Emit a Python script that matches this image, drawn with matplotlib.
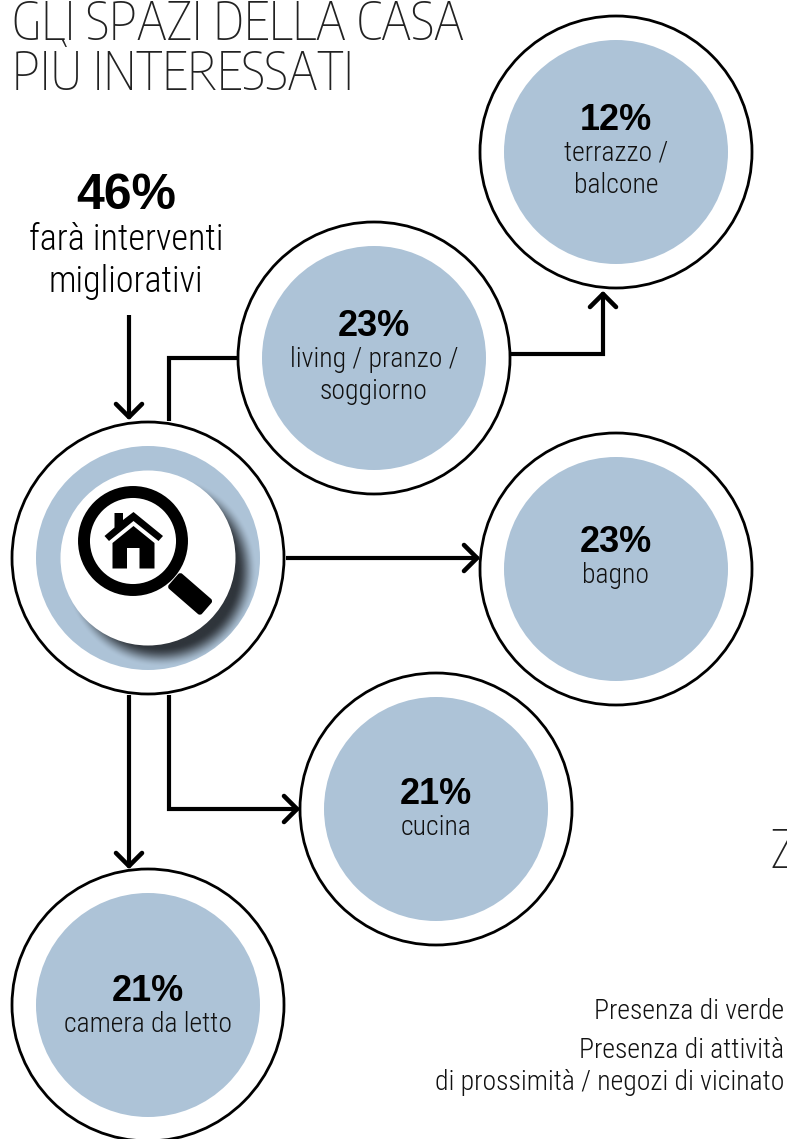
import numpy as np
import matplotlib
matplotlib.use("Agg")
import matplotlib.pyplot as plt
from matplotlib.patches import Circle, Polygon, FancyBboxPatch
from matplotlib.transforms import Affine2D

# ---- figures shown in the diagram ----
headline_value = 46
headline_lines = ["farà interventi", "migliorativi"]
spaces = [["terrazzo /", "balcone"], ["living / pranzo /", "soggiorno"], ["bagno"], ["cucina"], ["camera da letto"]]
shares = [12, 23, 23, 21, 21]
title_lines = ["GLI SPAZI DELLA CASA", "PIÙ INTERESSATI"]
side_notes = ["Presenza di verde", "Presenza di attività", "di prossimità / negozi di vicinato"]

# ---- layout, in pixels from the top-left corner ----
W, H = 787, 1139
centres = [(616, 152), (374, 358), (616, 569), (436, 809), (148, 1005)]
share_baselines = [130, 336, 552, 804, 1001]
hub = (148, 558)
R_RING, R_DISC, R_INNER = 136, 112, 87.5
BLUE = "#adc3d7"
DARK = "#2f353b"
BODY = ["Roboto Condensed", "Roboto", "DejaVu Sans"]
THIN = ["Encode Sans Condensed", "Roboto", "DejaVu Sans"]
BOLD = ["Liberation Sans", "DejaVu Sans"]

fig = plt.figure(figsize=(W / 100, H / 100), dpi=100)
ax = fig.add_axes([0, 0, 1, 1])
ax.set_xlim(0, W)
ax.set_ylim(H, 0)
ax.axis("off")


def bubble(cx, cy):
    ax.add_patch(Circle((cx, cy), R_RING, fc="white", ec="black", lw=2.0, zorder=2))
    ax.add_patch(Circle((cx, cy), R_DISC, fc=BLUE, ec="none", zorder=3))


def connector(points, head=True, lw=3.0):
    xs, ys = zip(*points)
    ax.plot(xs, ys, color="black", lw=lw, solid_joinstyle="miter", solid_capstyle="butt", zorder=1)
    if head:
        (x0, y0), (x1, y1) = points[-2], points[-1]
        d = np.array([x1 - x0, y1 - y0], float)
        d /= np.hypot(*d)
        n = np.array([-d[1], d[0]])
        tip = np.array([x1, y1])
        for s in (-1, 1):
            p = tip - d * 13 + n * s * 13
            ax.plot([p[0], tip[0]], [p[1], tip[1]], color="black", lw=lw + 0.3,
                    solid_capstyle="round", zorder=1)


# connectors between the hub and the rooms
connector([(129, 315), (129, 417)])
connector([(169, 421), (169, 358), (238, 358)], head=False)
connector([(510, 354), (603, 354), (603, 294)])
connector([(286, 558), (477, 558)])
connector([(169, 695), (169, 809), (297, 809)])
connector([(129, 695), (129, 866)])

for (cx, cy) in centres:
    bubble(cx, cy)
bubble(*hub)

# soft shadow thrown by the hub's white disc, kept inside the blue disc
yy, xx = np.mgrid[hub[1] - R_DISC:hub[1] + R_DISC + 1, hub[0] - R_DISC:hub[0] + R_DISC + 1]
dist = np.hypot(xx - hub[0] - 13, yy - hub[1] - 13)
fade = np.clip((R_INNER + 9 - dist) / 20, 0, 1)
fade = fade * fade * (3 - 2 * fade)
shade = np.zeros(dist.shape + (4,))
shade[..., :3] = matplotlib.colors.to_rgb(DARK)
shade[..., 3] = fade
img = ax.imshow(shade, extent=(hub[0] - R_DISC, hub[0] + R_DISC, hub[1] + R_DISC, hub[1] - R_DISC),
                zorder=4, interpolation="bilinear", aspect="auto")
img.set_clip_path(Circle(hub, R_DISC, transform=ax.transData))
ax.set_xlim(0, W)
ax.set_ylim(H, 0)
ax.add_patch(Circle(hub, R_INNER, fc="white", ec="none", zorder=5))

# magnifying glass with a small house in the lens
ax.add_patch(Circle((133, 541), 49, fc="white", ec="black", lw=8.6, zorder=6))
handle = FancyBboxPatch((0, -10), 44, 20, boxstyle="round,pad=0,rounding_size=3",
                        fc="black", ec="none", zorder=6,
                        transform=Affine2D().rotate_deg(41).translate(173.5, 579.5) + ax.transData)
ax.add_patch(handle)
roof = [(133.5, 512), (163, 536), (158.5, 541), (133.5, 521), (109, 541), (104.5, 536),
        (114.5, 527.5), (114.5, 513), (123, 513), (123, 520)]
ax.add_patch(Polygon(roof, closed=True, fc="black", ec="none", zorder=7))
body = [(133.5, 526), (154.5, 543), (154.5, 568.5), (139.5, 568.5), (139.5, 548),
        (127, 548), (127, 568.5), (112.5, 568.5), (112.5, 543)]
ax.add_patch(Polygon(body, closed=True, fc="black", ec="none", zorder=7))

# bold percentage and light room name
for (cx, cy), base, share, name in zip(centres, share_baselines, shares, spaces):
    ax.text(cx, base, f"{share}%", ha="center", va="baseline", family=BOLD,
            weight="bold", fontsize=26, color="black", zorder=8)
    for i, line in enumerate(name):
        ax.text(cx, base + 31 + 32 * i, line, ha="center", va="baseline", family=BODY, weight=300,
                fontsize=20, color="#111111", zorder=8)

# headline over the hub
ax.text(126, 209, f"{headline_value}%", ha="center", va="baseline", family=BOLD,
        weight="bold", fontsize=36, color="black")
ax.text(126, 250, headline_lines[0], ha="center", va="baseline", family=BODY, weight=300, fontsize=26)
ax.text(126, 292, headline_lines[1], ha="center", va="baseline", family=BODY, weight=300, fontsize=26)

# title
ax.text(12, 40, title_lines[0], ha="left", va="baseline", family=THIN, weight=250, fontsize=38, color="#222222")
ax.text(12, 90, title_lines[1], ha="left", va="baseline", family=THIN, weight=250, fontsize=38, color="#222222")

# remains of the neighbouring panel, cut by the page edge
ax.text(771, 868, "Z", ha="left", va="baseline", family=THIN, weight=250, fontsize=38, color="#222222")
for y, note in zip((1019, 1058, 1090), side_notes):
    ax.text(784, y, note, ha="right", va="baseline", family=BODY, weight=300, fontsize=20, color="#111111")

fig.savefig("out.png", dpi=100)
